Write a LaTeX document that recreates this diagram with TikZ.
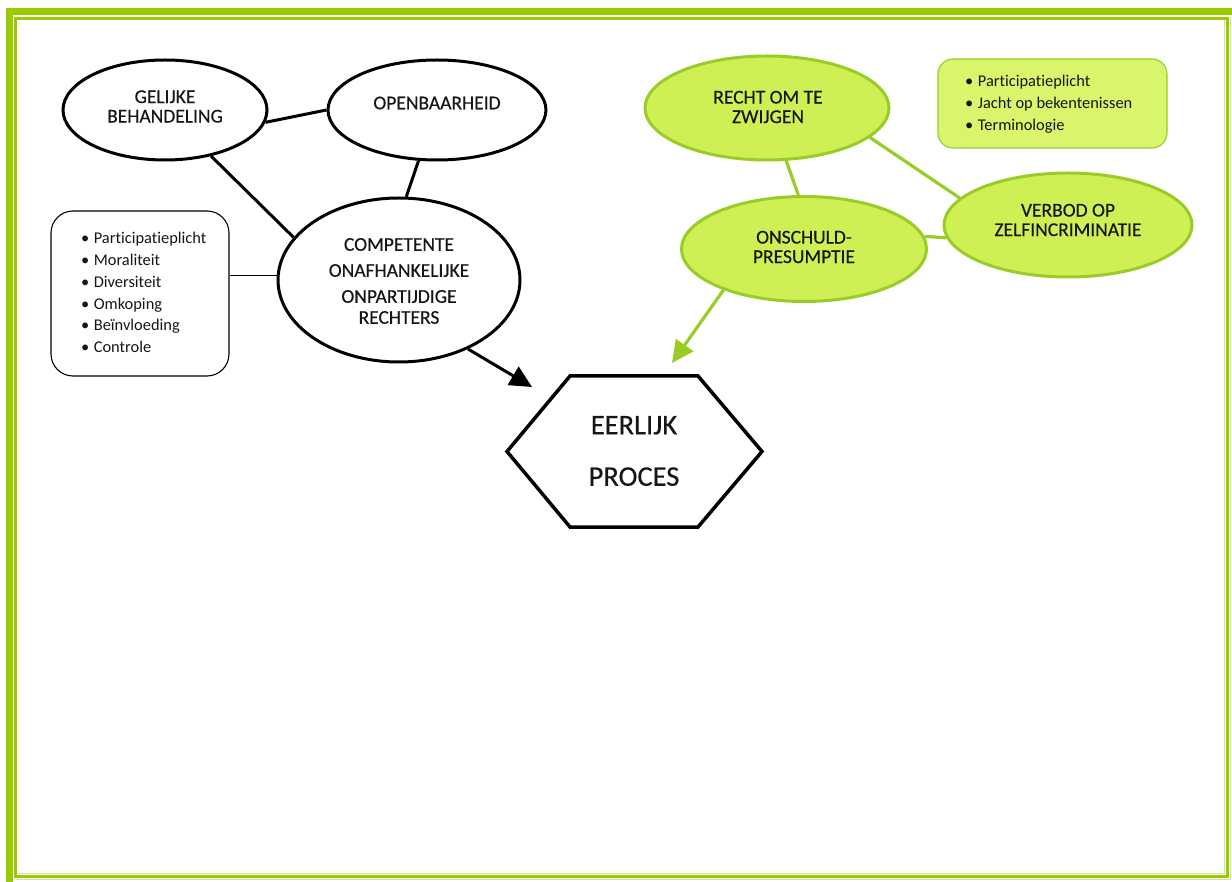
\documentclass[tikz,border=0pt]{standalone}
\usepackage{fontspec}
\setmainfont{Carlito}[Ligatures=NoCommon]
\newfontfamily\heavyish{Carlito}[FakeBold=0.3,Ligatures=NoCommon]
\usetikzlibrary{shapes.geometric,arrows.meta}
\definecolor{lime}{RGB}{153,204,0}
\definecolor{limeline}{RGB}{153,204,38}
\definecolor{limefill}{RGB}{206,240,84}
\definecolor{limebox}{RGB}{216,245,108}
\definecolor{ink}{RGB}{22,22,22}
\begin{document}
\begin{tikzpicture}[x=1pt,y=-1pt,
  bubble/.style={ellipse, draw=black, line width=3pt, inner sep=0pt, fill=white},
  greenbubble/.style={bubble, draw=limeline, fill=limefill},
  bubbletext/.style={align=center, text=ink, inner sep=0pt,
    font=\heavyish\fontsize{19.5}{19.5}\selectfont},
  listtext/.style={align=left, text=ink, inner sep=0pt, anchor=west,
    font=\fontsize{16.4}{21.8}\selectfont},
  link/.style={line width=3pt, draw=black},
  greenlink/.style={line width=3.2pt, draw=limeline},
  arrowhead/.style={-{Triangle[length=22pt,width=21pt]}},
]
\useasboundingbox (0,0) rectangle (1232,882);

% page frame
\fill[lime] (6,8) rectangle (13,882);
\fill[lime] (6,8) rectangle (1232,15);
\draw[lime, line width=2.4pt] (15.5,18.5) rectangle (1227.5,876.5);
\draw[lime!45, line width=0.8pt] (1224.5,20) -- (1224.5,873.5) -- (18,873.5);
\draw[lime!45, line width=0.8pt] (1230,18) -- (1230,879) -- (16,879);

% left cluster
\node[bubble, minimum width=204pt, minimum height=100pt] (gb) at (165,110) {};
\node[bubbletext] (gb-text) at (165,106.5) {GELIJKE\\BEHANDELING};
\node[bubble, minimum width=218pt, minimum height=100pt] (op) at (437,110) {};
\node[bubbletext] (op-text) at (437,103) {OPENBAARHEID};
\node[bubble, minimum width=242pt, minimum height=164pt] (comp) at (399,280) {};
\node[bubbletext, font=\heavyish\fontsize{19.5}{21}\selectfont] (comp-text) at (399,281)
  {COMPETENTE\\[5pt]ONAFHANKELIJKE\\[5pt]ONPARTIJDIGE\\RECHTERS};

\node[draw=black, line width=1.1pt, rounded corners=22pt,
  minimum width=178pt, minimum height=165pt] (box) at (140,293.5) {};
\node[listtext] (box-list) at (81,292.5)
  {\textbullet\hspace{4.5pt}Participatieplicht\\
   \textbullet\hspace{4.5pt}Moraliteit\\
   \textbullet\hspace{4.5pt}Diversiteit\\
   \textbullet\hspace{4.5pt}Omkoping\\
   \textbullet\hspace{4.5pt}Beïnvloeding\\
   \textbullet\hspace{4.5pt}Controle};

\draw[link] (gb.-7) -- (op.180);
\draw[link] (gb.-45) -- (comp.158);
\draw[link] (op.-110) -- (comp.85);
\draw[line width=1pt] (comp.178) -- (comp.178 -| box.east);

% right cluster
\node[draw=limeline, fill=limebox, line width=1.1pt, rounded corners=15pt,
  minimum width=229pt, minimum height=89pt] (kbox) at (1052.5,103.5) {};
\node[listtext, font=\fontsize{16.4}{22}\selectfont] (kbox-list) at (965,104)
  {\textbullet\hspace{4.5pt}Participatieplicht\\
   \textbullet\hspace{4.5pt}Jacht op bekentenissen\\
   \textbullet\hspace{4.5pt}Terminologie};

\node[greenbubble, minimum width=244pt, minimum height=104pt] (recht) at (767,108) {};
\node[bubbletext] (recht-text) at (768,107) {RECHT OM TE\\ZWIJGEN};
\node[greenbubble, minimum width=245pt, minimum height=105pt] (onsch) at (804,249) {};
\node[bubbletext] (onsch-text) at (804,247) {ONSCHULD-\\PRESUMPTIE};
\node[greenbubble, minimum width=248pt, minimum height=104pt] (verbod) at (1068,225) {};
\node[bubbletext] (verbod-text) at (1068,220) {VERBOD OP\\ZELFINCRIMINATIE};

\draw[greenlink] (recht.-70) -- (onsch.96);
\draw[greenlink] (recht.-16) -- (verbod.166);
\draw[greenlink] (onsch.6) -- (verbod.186);

% central hexagon
\coordinate (hex-w) at (507,451.5);
\coordinate (hex-e) at (762,451.5);
\draw[line width=3.5pt, line join=miter, fill=white]
  (hex-w) -- (570,376) -- (698,376) -- (hex-e) -- (698,527) -- (570,527) -- cycle;
\node[bubbletext, font=\heavyish\fontsize{28.5}{28.5}\selectfont] (hex) at (634,451)
  {EERLIJK\\[23pt]PROCES};

\coordinate (black-tip) at (532,387);
\coordinate (green-tip) at (672,363);
\draw[link, arrowhead] (comp.-45) -- (black-tip);
\draw[greenlink, arrowhead] (onsch.207) -- (green-tip);
\end{tikzpicture}
\end{document}
